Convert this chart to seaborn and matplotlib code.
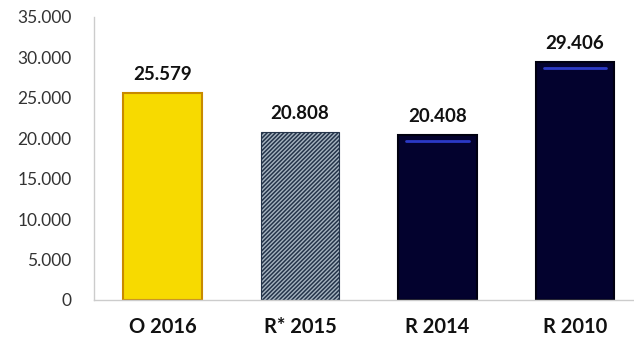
import matplotlib
matplotlib.use("Agg")
import matplotlib.pyplot as plt
import seaborn as sns
import pandas as pd

categories = ["O 2016", "R* 2015", "R 2014", "R 2010"]
values = [25579, 20808, 20408, 29406]
yticks = [0, 5000, 10000, 15000, 20000, 25000, 30000, 35000]

sns.set_theme(style="white")
plt.rcParams["font.family"] = ["Lato", "DejaVu Sans"]
plt.rcParams["hatch.linewidth"] = 1.1

def fmt(v):
    return f"{v:,}".replace(",", ".")

df = pd.DataFrame({"cat": categories, "val": values})
colors = ["#f7da00", "#a6b4c0", "#03022e", "#03022e"]

fig = plt.figure(figsize=(6.34, 3.44), dpi=100)
ax = fig.add_axes([0.148, 0.128, 0.852, 0.823])
sns.barplot(data=df, x="cat", y="val", hue="cat", palette=colors,
            width=0.57, legend=False, ax=ax, saturation=1)

edge = ["#c88a00", "#24344a", "#000010", "#000010"]
for i, p in enumerate(ax.patches):
    p.set_edgecolor(edge[i])
    p.set_linewidth(1.5)
    if i == 1:
        p.set_hatch("////////")
        p.set_linewidth(0.8)
    if i >= 2:
        x0 = p.get_x() + p.get_width() * 0.1
        x1 = p.get_x() + p.get_width() * 0.9
        yv = p.get_height() - 700
        ax.plot([x0, x1], [yv, yv], color="#3040d8", lw=2, alpha=0.9)
    ax.annotate(fmt(values[i]), (p.get_x() + p.get_width() / 2, p.get_height()),
                xytext=(0, 7), textcoords="offset points", ha="center", va="bottom",
                fontsize=13.5, fontweight="bold", color="#111111")

ax.set_ylim(0, 35000)
ax.set_xlim(-0.5, 3.43)
ax.set_yticks(yticks)
ax.set_yticklabels([fmt(t) for t in yticks], fontsize=12.5, color="#333333")
ax.set_xticks(range(len(categories)))
ax.set_xticklabels(categories, fontsize=14.5, fontweight="bold", color="#111111")
ax.tick_params(axis="x", length=0, pad=12)
ax.tick_params(axis="y", length=4, color="#cccccc", direction="out", pad=12)
ax.set_xlabel("")
ax.set_ylabel("")
for s in ["top", "right"]:
    ax.spines[s].set_visible(False)
for s in ["left", "bottom"]:
    ax.spines[s].set_color("#cccccc")
    ax.spines[s].set_linewidth(1)

fig.savefig("out.png", dpi=100)
